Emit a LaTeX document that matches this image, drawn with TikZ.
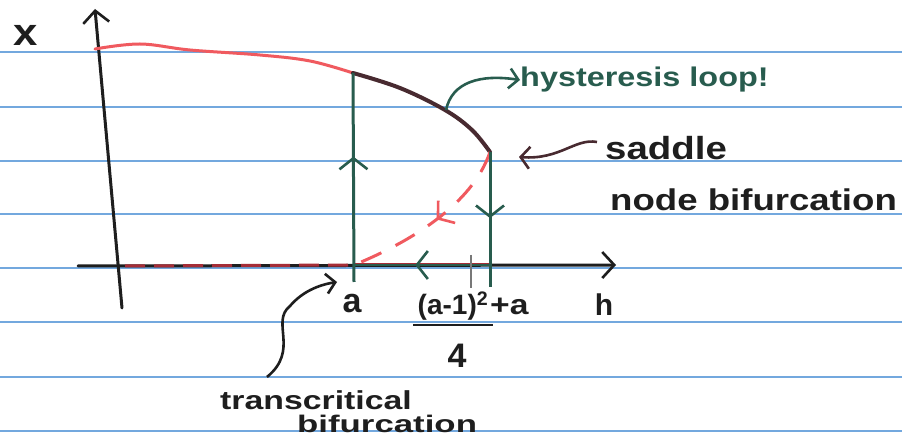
\documentclass[tikz,border=0pt]{standalone}
\usepackage{fontspec}
\setmainfont{Liberation Sans}
\usetikzlibrary{arrows.meta,decorations.markings}
\definecolor{ink}{RGB}{30,30,30}
\definecolor{pen}{RGB}{40,92,78}
\definecolor{redpen}{RGB}{240,90,95}
\definecolor{dred}{RGB}{165,45,55}
\definecolor{brown}{RGB}{72,42,48}
\definecolor{rule}{RGB}{115,168,222}
\tikzset{
  ruleline/.style={rule,line width=1.6pt},
  axisline/.style={ink,line width=3pt,line cap=round},
  barb/.style={-{Straight Barb[length=12pt,width=26pt,line width=2.6pt]}},
  midbarb/.style={postaction={decorate,decoration={markings,
      mark=at position #1 with {\arrow{Straight Barb[length=11pt,width=28pt,line width=2.6pt]}}}}},
  greenline/.style={pen,line width=3pt},
  hand/.style={inner sep=0pt},
  lbl/.style={hand,font=\fontsize{30}{32}\selectfont\bfseries},
}
\newcommand{\wide}[2]{\scalebox{#1}[1]{#2}}
\begin{document}
\begin{tikzpicture}[x=1pt,y=-1pt]
\useasboundingbox (0,0) rectangle (902,443);
\fill[white] (0,0) rectangle (902,443);
\foreach \yy in {52,107,161,214,268,322,377,431}
  \draw[ruleline] (0,\yy) -- (902,\yy);

% key points
\coordinate (top) at (95,9);
\coordinate (bot) at (122,308);
\coordinate (hl) at (78,266);
\coordinate (hr) at (616,265);
\coordinate (A) at (354,265);
\coordinate (Abot) at (354,282);
\coordinate (P) at (353,73);
\coordinate (S) at (490,152);
\coordinate (Sbot) at (490,287);
\coordinate (Saxis) at (490,265);
\coordinate (tk1) at (471,255);
\coordinate (tk2) at (471,288);
\coordinate (L0) at (95,49);

% axes
\draw[axisline,barb] (bot) -- (top);
\draw[axisline,barb] (hl) -- (hr);
\draw[dred,line width=3pt,dash pattern=on 20pt off 9pt] (125,266) -- (A);
\draw[dred,line width=3pt] (A) -- (Saxis);

% upper branch
\draw[redpen,line width=3pt,line cap=round] plot[smooth,tension=0.6] coordinates
  {(L0) (140,44) (190,50) (260,55) (310,61) (P)};
\draw[brown,line width=4pt,line cap=round] plot[smooth,tension=0.6] coordinates
  {(P) (400,88) (445,110) (472,130) (S)};

% unstable lower branch
\draw[redpen,line width=3pt,dash pattern=on 22pt off 16pt,
  midbarb=0.48] (S) .. controls (472,205) and (410,242) .. (A);

% hysteresis jumps
\draw[greenline,midbarb=0.6] (Abot) -- (P);
\draw[greenline,midbarb=0.49] (S) -- (Sbot);
\draw[pen,line width=2.6pt,midbarb=0.55] (Saxis) -- (A);
\draw[ink!60,line width=2pt] (tk1) -- (tk2);

% axis labels
\node[lbl,font=\fontsize{38}{40}\selectfont\bfseries,ink] (xl) at (26,35) {\wide{1.15}{x}};
\node[lbl,ink] (hlab) at (604,305) {h};
\node[lbl,font=\fontsize{34}{36}\selectfont\bfseries,ink] (al) at (352,304) {a};

% fraction label
\node[lbl,ink,font=\fontsize{28}{30}\selectfont\bfseries] (num) at (453,306) {(a-1)\textsuperscript{2}};
\node[lbl,ink,font=\fontsize{28}{30}\selectfont\bfseries,anchor=west] (plusa) at (490,306) {\wide{1.2}{+a}};
\draw[ink,line width=2.4pt] (413,325) -- (493,325);
\node[lbl,ink,font=\fontsize{34}{36}\selectfont\bfseries] (four) at (457,356) {4};

% hysteresis loop label
\node[lbl,pen,anchor=west,font=\fontsize{27}{29}\selectfont\bfseries] (hyst) at (520,80) {\wide{1.2}{hysteresis loop!}};
\coordinate (hs) at (446,110);
\draw[pen,line width=2.6pt,-{Straight Barb[length=9pt,width=20pt,line width=2.6pt]}]
  (hs) .. controls (452,82) and (480,74) .. (hyst.west);

% saddle node label
\node[lbl,ink,anchor=west,font=\fontsize{32}{34}\selectfont\bfseries] (sad) at (605,148) {\wide{1.2}{saddle}};
\node[lbl,ink,anchor=west,font=\fontsize{30}{32}\selectfont\bfseries] (nb) at (610,200) {\wide{1.22}{node bifurcation}};
\coordinate (st) at (519,157);
\draw[brown,line width=2.6pt,-{Straight Barb[length=9pt,width=22pt,line width=2.6pt]}]
  (sad.west) ++(-8,-6) .. controls (575,138) and (560,160) .. (st);

% transcritical label
\node[lbl,ink,anchor=west,font=\fontsize{26}{28}\selectfont\bfseries] (tc) at (220,400) {\wide{1.3}{transcritical}};
\node[lbl,ink,anchor=west,font=\fontsize{24}{26}\selectfont\bfseries] (bif) at (297,424) {\wide{1.45}{bifurcation}};
\coordinate (tt) at (337,282);
\draw[ink,line width=2.6pt,-{Straight Barb[length=9pt,width=20pt,line width=2.6pt]}]
  (267,377) .. controls (300,350) and (270,322) .. (290,306) .. controls (302,292) and (318,285) .. (tt);
\end{tikzpicture}
\end{document}
